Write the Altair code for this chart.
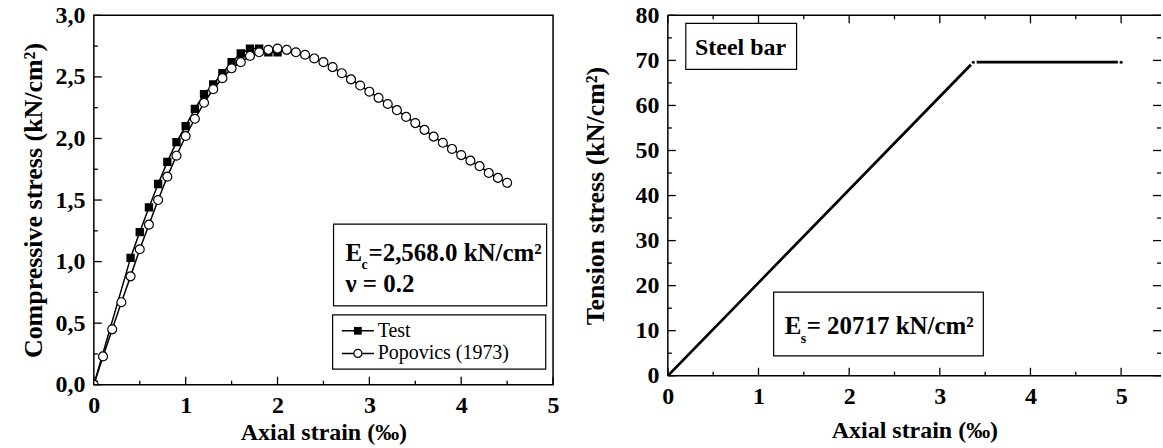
import altair as alt
import pandas as pd

FONT = "Liberation Serif"

# ---------------- data ----------------
popovics_strain = [0.0, 0.1, 0.2, 0.3, 0.4, 0.5, 0.6, 0.7, 0.8, 0.9,
                   1.0, 1.1, 1.2, 1.3, 1.4, 1.5, 1.6, 1.7, 1.8, 1.9,
                   2.0, 2.1, 2.2, 2.3, 2.4, 2.5, 2.6, 2.7, 2.8, 2.9,
                   3.0, 3.1, 3.2, 3.3, 3.4, 3.5, 3.6, 3.7, 3.8, 3.9,
                   4.0, 4.1, 4.2, 4.3, 4.4, 4.5]
popovics_stress = [0.00, 0.23, 0.45, 0.67, 0.88, 1.10, 1.30, 1.50, 1.69, 1.86,
                   2.02, 2.16, 2.29, 2.40, 2.49, 2.57, 2.62, 2.67, 2.70, 2.72,
                   2.73, 2.72, 2.70, 2.68, 2.65, 2.62, 2.58, 2.53, 2.48, 2.43,
                   2.38, 2.33, 2.28, 2.23, 2.175, 2.125, 2.07, 2.015, 1.965, 1.915,
                   1.865, 1.82, 1.775, 1.72, 1.68, 1.64]

test_strain = [0.0, 0.4, 0.5, 0.6, 0.7, 0.8, 0.9, 1.0, 1.1, 1.2,
               1.3, 1.4, 1.5, 1.6, 1.7, 1.8, 1.9, 2.0]
test_stress = [0.00, 1.03, 1.24, 1.44, 1.63, 1.81, 1.97, 2.10, 2.24, 2.36,
               2.44, 2.53, 2.62, 2.69, 2.73, 2.73, 2.70, 2.70]

steel_strain = [0.0, 3.37, 5.0]
steel_stress = [0.0, 69.6, 69.6]

# tick values / labels
left_x_major = [0, 1, 2, 3, 4, 5]
left_x_minor = [0.5, 1.5, 2.5, 3.5, 4.5]
left_y_major = [0.0, 0.5, 1.0, 1.5, 2.0, 2.5, 3.0]
left_y_minor = [0.25, 0.75, 1.25, 1.75, 2.25, 2.75]
right_x_major = [0, 1, 2, 3, 4, 5]
right_x_minor = [0.5, 1.5, 2.5, 3.5, 4.5]
right_y_major = [0, 10, 20, 30, 40, 50, 60, 70, 80]
right_y_minor = [5, 15, 25, 35, 45, 55, 65, 75]

legend_labels = ["Test", "Popovics (1973)"]

# ---------------- layout ----------------
W1, H1 = 460, 370
W2, H2 = 494, 361
MAJ, MIN = 8, 4

axis_common = dict(
    ticks=False, tickSize=0, domain=False, grid=False,
    labelFont=FONT, labelFontWeight="bold", labelFontSize=24, labelColor="black",
    titleFont=FONT, titleFontWeight="bold", titleColor="black",
    labelFlush=False, labelOverlap=False,
)

xs1 = alt.Scale(domain=[0, 5], nice=False, zero=False)
ys1 = alt.Scale(domain=[0, 3], nice=False, zero=False)
xs2 = alt.Scale(domain=[0, 5.44], nice=False, zero=False)
ys2 = alt.Scale(domain=[0, 80], nice=False, zero=False)

AX1 = alt.Axis(values=left_x_major, format="d", title="Axial strain (‰)",
               labelPadding=9, titlePadding=3, titleFontSize=24, **axis_common)
AY1 = alt.Axis(values=left_y_major,
               labelExpr="replace(format(datum.value, '.1f'), '.', ',')",
               title="Compressive stress (kN/cm²)", titleFontSize=26,
               labelPadding=9, titlePadding=8, **axis_common)
AX2 = alt.Axis(values=right_x_major, format="d", title="Axial strain (‰)",
               labelPadding=9, titlePadding=10, titleFontSize=24, **axis_common)
AY2 = alt.Axis(values=right_y_major, format="d",
               title="Tension stress (kN/cm²)", titleFontSize=26,
               labelPadding=9, titlePadding=26, **axis_common)

P1 = dict(xs=xs1, ys=ys1, ax=AX1, ay=AY1)
P2 = dict(xs=xs2, ys=ys2, ax=AX2, ay=AY2)


def X(p, field):
    return alt.X(field, scale=p["xs"], axis=p["ax"])


def Y(p, field):
    return alt.Y(field, scale=p["ys"], axis=p["ay"])


def XD(p, v):
    return alt.XDatum(v, scale=p["xs"], axis=p["ax"])


def YD(p, v):
    return alt.YDatum(v, scale=p["ys"], axis=p["ay"])


def xticks(p, vals, H, length, top=False):
    df = pd.DataFrame({"v": vals})
    if top:
        y, y2 = alt.value(0), alt.value(length)
    else:
        y, y2 = alt.value(H), alt.value(H - length)
    return alt.Chart(df).mark_rule(color="black", strokeWidth=1.3).encode(
        x=X(p, "v:Q"), y=y, y2=y2)


def yticks(p, vals, W, length, right=False):
    df = pd.DataFrame({"v": vals})
    if right:
        x, x2 = alt.value(W), alt.value(W - length)
    else:
        x, x2 = alt.value(0), alt.value(length)
    return alt.Chart(df).mark_rule(color="black", strokeWidth=1.3).encode(
        y=Y(p, "v:Q"), x=x, x2=x2)


def box(p, x1, x2, y1, y2):
    return alt.Chart(pd.DataFrame({"a": [0]})).mark_rect(
        fill="white", stroke="black", strokeWidth=1.2).encode(
        x=XD(p, x1), x2=alt.datum(x2), y=YD(p, y1), y2=alt.datum(y2))


def label(p, txt, x, y, size=25, weight="bold", dx=0, dy=0, baseline="alphabetic", align="left"):
    return alt.Chart(pd.DataFrame({"t": [txt]})).mark_text(
        font=FONT, fontWeight=weight, fontSize=size, color="black",
        align=align, baseline=baseline, dx=dx, dy=dy).encode(
        x=XD(p, x), y=YD(p, y), text="t:N")


# ---------------- left panel ----------------
pop_df = pd.DataFrame({"strain": popovics_strain, "stress": popovics_stress})
test_df = pd.DataFrame({"strain": test_strain, "stress": test_stress})

test_line = alt.Chart(test_df).mark_line(color="black", strokeWidth=1.5, clip=True).encode(
    x=X(P1, "strain:Q"), y=Y(P1, "stress:Q"))
pop_line = alt.Chart(pop_df).mark_line(color="black", strokeWidth=1.5, clip=True).encode(
    x=X(P1, "strain:Q"), y=Y(P1, "stress:Q"))
test_pts = alt.Chart(test_df).mark_point(shape="square", filled=True, color="black",
                                         size=70, opacity=1, clip=True).encode(
    x=X(P1, "strain:Q"), y=Y(P1, "stress:Q"))
pop_pts = alt.Chart(pop_df).mark_point(shape="circle", filled=True, fill="white",
                                       stroke="black", strokeWidth=1.2, size=80,
                                       opacity=1, clip=True).encode(
    x=X(P1, "strain:Q"), y=Y(P1, "stress:Q"))

ec_box = box(P1, 2.61, 4.93, 1.305, 0.64)
ec_E = label(P1, "E", 2.74, 1.005)
ec_c = label(P1, "c", 2.74, 1.005, size=14, dx=16, dy=8)
ec_rest = label(P1, "=2,568.0 kN/cm²", 2.74, 1.005, dx=23)
nu_txt = label(P1, "ν = 0.2", 2.74, 0.754)

leg_box = box(P1, 2.60, 4.92, 0.567, 0.126)
leg_rows = [0.438, 0.254]
leg_layers = []
for i, (lab, yy) in enumerate(zip(legend_labels, leg_rows)):
    leg_layers.append(
        alt.Chart(pd.DataFrame({"a": [0]})).mark_rule(color="black", strokeWidth=1.5).encode(
            x=XD(P1, 2.70), x2=alt.datum(3.05), y=YD(P1, yy)))
    if i == 0:
        leg_layers.append(
            alt.Chart(pd.DataFrame({"a": [0]})).mark_point(
                shape="square", filled=True, color="black", size=60, opacity=1).encode(
                x=XD(P1, 2.875), y=YD(P1, yy)))
    else:
        leg_layers.append(
            alt.Chart(pd.DataFrame({"a": [0]})).mark_point(
                shape="circle", filled=True, fill="white", stroke="black",
                strokeWidth=1.2, size=65, opacity=1).encode(
                x=XD(P1, 2.875), y=YD(P1, yy)))
    leg_layers.append(label(P1, lab, 3.09, yy, size=20, weight="normal", baseline="middle"))

left = alt.layer(
    test_line, pop_line, test_pts, pop_pts,
    xticks(P1, left_x_major, H1, MAJ), xticks(P1, left_x_minor, H1, MIN),
    yticks(P1, left_y_major, W1, MAJ), yticks(P1, left_y_minor, W1, MIN),
    ec_box, ec_E, ec_c, ec_rest, nu_txt,
    leg_box, *leg_layers,
).properties(width=W1, height=H1,
             view=alt.ViewBackground(stroke="black", strokeWidth=1.5))

# ---------------- right panel ----------------
steel_df = pd.DataFrame({"strain": steel_strain, "stress": steel_stress})

steel_line = alt.Chart(steel_df).mark_line(color="black", strokeWidth=2.7, clip=True).encode(
    x=X(P2, "strain:Q"), y=Y(P2, "stress:Q"))
steel_gap = alt.Chart(steel_df).transform_filter("datum.strain > 0").mark_point(
    shape="circle", filled=True, color="white", size=45, opacity=1).encode(
    x=X(P2, "strain:Q"), y=Y(P2, "stress:Q"))
steel_dot = alt.Chart(steel_df).transform_filter("datum.strain > 0").mark_point(
    shape="circle", filled=True, color="black", size=10, opacity=1).encode(
    x=X(P2, "strain:Q"), y=Y(P2, "stress:Q"))

frame2 = [
    alt.Chart(pd.DataFrame({"a": [0]})).mark_rule(color="black", strokeWidth=1.5).encode(
        x=alt.value(0), x2=alt.value(W2), y=alt.value(0)),
    alt.Chart(pd.DataFrame({"a": [0]})).mark_rule(color="black", strokeWidth=1.5).encode(
        x=alt.value(0), x2=alt.value(W2), y=alt.value(H2)),
    alt.Chart(pd.DataFrame({"a": [0]})).mark_rule(color="black", strokeWidth=1.5).encode(
        x=alt.value(0), y=alt.value(0), y2=alt.value(H2)),
]

steel_box = box(P2, 0.198, 1.42, 78.2, 68.0)
steel_txt = label(P2, "Steel bar", 0.30, 71.1, size=24)
es_box = box(P2, 1.167, 3.48, 18.55, 4.43)
es_E = label(P2, "E", 1.289, 9.24)
es_s = label(P2, "s", 1.289, 9.24, size=14, dx=16, dy=9)
es_rest = label(P2, "= 20717 kN/cm²", 1.289, 9.24, dx=22)

right = alt.layer(
    steel_line, steel_gap, steel_dot,
    xticks(P2, right_x_major, H2, MAJ), xticks(P2, right_x_minor, H2, MIN),
    xticks(P2, right_x_major, H2, MAJ, top=True), xticks(P2, right_x_minor, H2, MIN, top=True),
    yticks(P2, right_y_major, W2, MAJ), yticks(P2, right_y_minor, W2, MIN),
    yticks(P2, right_y_major, W2, MAJ, right=True), yticks(P2, right_y_minor, W2, MIN, right=True),
    *frame2,
    steel_box, steel_txt, es_box, es_E, es_s, es_rest,
).properties(width=W2, height=H2,
             view=alt.ViewBackground(stroke="transparent"))

chart = alt.hconcat(left, right, spacing=115, bounds="flush").properties(
    padding={"left": 20, "top": 2, "right": 0, "bottom": 0},
    background="white",
)

chart.save("out.html", embed_options={"renderer": "svg", "actions": False})
